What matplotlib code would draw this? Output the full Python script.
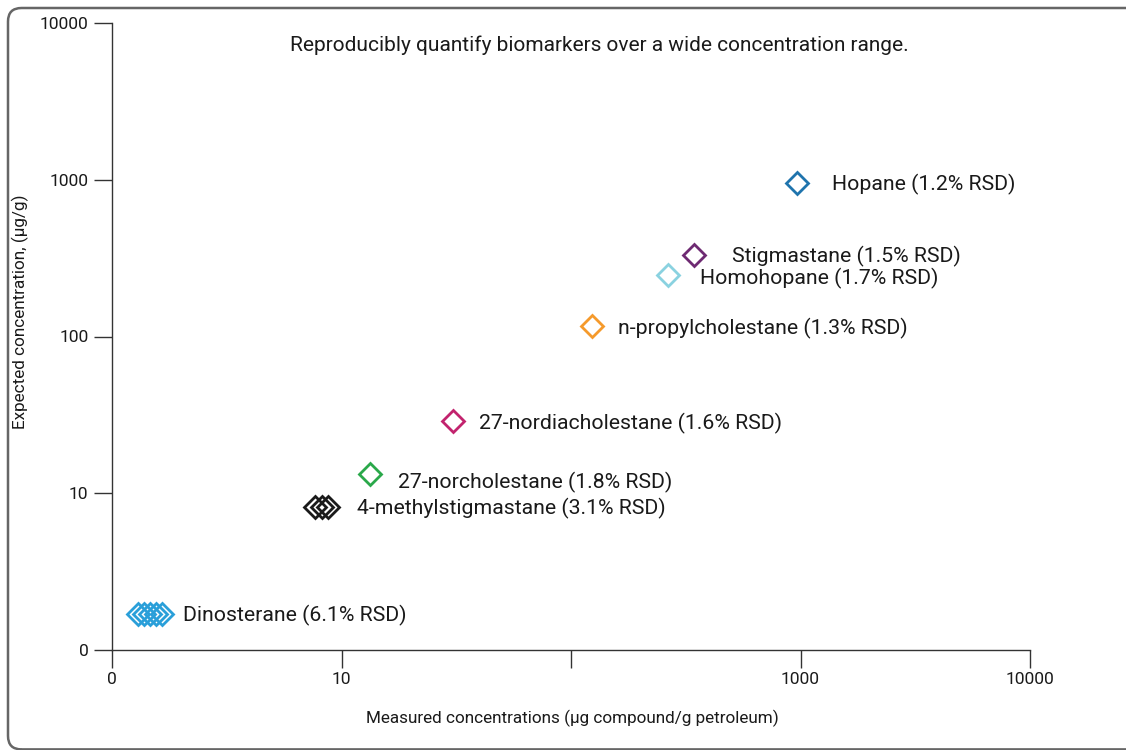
import numpy as np
import matplotlib
matplotlib.use("Agg")
import matplotlib.pyplot as plt
from matplotlib.patches import FancyBboxPatch
from matplotlib.ticker import FixedLocator, FixedFormatter, NullLocator

plt.rcParams['font.family'] = ['Roboto', 'DejaVu Sans']

# Compound data (replicate injections per compound)
compounds = ["Hopane (1.2% RSD)", "Stigmastane (1.5% RSD)",
             "Homohopane (1.7% RSD)", "n-propylcholestane (1.3% RSD)",
             "27-nordiacholestane (1.6% RSD)", "27-norcholestane (1.8% RSD)",
             "4-methylstigmastane (3.1% RSD)", "Dinosterane (6.1% RSD)"]
measured = [[970], [345], [265], [123], [30.6], [13.3],
            [7.7, 8.2, 8.7], [1.30, 1.38, 1.46, 1.55, 1.65]]
expected = [950, 330, 248, 117, 29, 13.3, 8.2, 1.7]
colors = ["#1f74ad", "#6e2a72", "#8ad2e0", "#f59a2c",
          "#c2236e", "#2aa84a", "#1a1a1a", "#2a9fd9"]

tick_vals = [1, 10, 100, 1000, 10000]
x_tick_labels = ["0", "10", "", "1000", "10000"]
y_tick_labels = ["0", "10", "100", "1000", "10000"]

# label offsets (points) from the last replicate marker
label_offsets = [(25, -1), (27, -1), (23, -3), (19, -2),
                 (19, -2), (20, -6), (21, -1), (15, -1)]

fig = plt.figure(figsize=(11.26, 7.5), dpi=100)

# outer rounded frame (right edge runs off the picture)
frame = FancyBboxPatch((8 / 1126, 0.6 / 750), 1.1, 1 - 8.6 / 750,
                       boxstyle="round,pad=0,rounding_size=0.012",
                       transform=fig.transFigure, fill=False,
                       edgecolor="#666666", linewidth=1.8,
                       mutation_aspect=1.5, clip_on=False)
fig.patches.append(frame)

ax = fig.add_axes([112 / 1126, 1 - 650 / 750, 918 / 1126, 627 / 750])
ax.set_xscale("log")
ax.set_yscale("log")
ax.set_xlim(1, 10000)
ax.set_ylim(1, 10000)

for name, xs, y, c, off in zip(compounds, measured, expected, colors, label_offsets):
    ax.plot(xs, [y] * len(xs), linestyle="none", marker="D",
            markersize=11.5, markerfacecolor="none",
            markeredgecolor=c, markeredgewidth=2)
    ax.annotate(name, (xs[-1], y), xytext=off, textcoords="offset points",
                fontsize=15.3, va="center", ha="left", color="#1a1a1a")

for sp in ["top", "right"]:
    ax.spines[sp].set_visible(False)
for sp in ["left", "bottom"]:
    ax.spines[sp].set_color("#333333")
    ax.spines[sp].set_linewidth(1.0)

ax.xaxis.set_major_locator(FixedLocator(tick_vals))
ax.xaxis.set_major_formatter(FixedFormatter(x_tick_labels))
ax.yaxis.set_major_locator(FixedLocator(tick_vals))
ax.yaxis.set_major_formatter(FixedFormatter(y_tick_labels))
ax.xaxis.set_minor_locator(NullLocator())
ax.yaxis.set_minor_locator(NullLocator())
ax.tick_params(direction="out", length=13, width=1.0, color="#333333",
               labelsize=12.5, labelcolor="#1a1a1a", pad=3)
ax.tick_params(axis="y", pad=4)

fig.text(572 / 1126, 1 - 718 / 750,
         "Measured concentrations (\u00b5g compound/g petroleum)",
         fontsize=12.3, ha="center", va="center", color="#1a1a1a")
fig.text(20 / 1126, 1 - 312 / 750, "Expected concentration, (\u00b5g/g)",
         fontsize=12.3, ha="center", va="center", rotation=90,
         color="#1a1a1a")
ax.text(0.531, 0.965, "Reproducibly quantify biomarkers over a wide concentration range.",
        transform=ax.transAxes, fontsize=15, ha="center", va="center",
        color="#1a1a1a")

fig.savefig("out.png", dpi=100)
